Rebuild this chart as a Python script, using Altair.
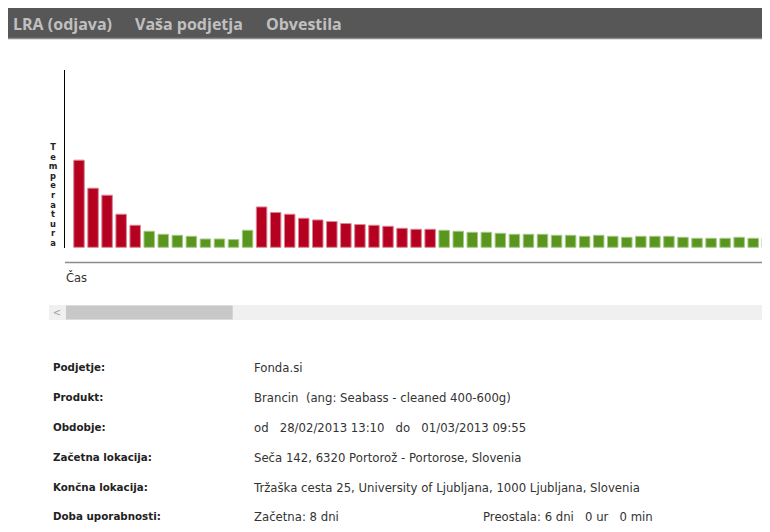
import altair as alt
import pandas as pd

# ---------------- data ----------------
menu_items = ["LRA (odjava)", "Vaša podjetja", "Obvestila"]

temperatures = [8.7, 5.9, 5.2, 3.3, 2.2, 1.6, 1.3, 1.2, 1.1, 0.83,
                0.83, 0.77, 1.7, 4.03, 3.47, 3.3, 2.9, 2.73, 2.57, 2.37,
                2.27, 2.2, 2.1, 1.9, 1.8, 1.8, 1.7, 1.6, 1.5, 1.5,
                1.4, 1.3, 1.3, 1.3, 1.2, 1.2, 1.1, 1.2, 1.1, 1.0,
                1.1, 1.1, 1.1, 1.0, 0.9, 0.9, 0.9, 1.0, 0.9, 0.9]

status = (["prekoračeno"] * 5 + ["ustrezno"] * 8 +
          ["prekoračeno"] * 13 + ["ustrezno"] * 24)

y_title = "Temperatura"
x_title = "Čas"

info_labels = ["Podjetje:", "Produkt:", "Obdobje:", "Začetna lokacija:",
               "Končna lokacija:", "Doba uporabnosti:"]
info_values = [
    "Fonda.si",
    "Brancin\u00a0 (ang: Seabass - cleaned 400-600g)",
    "od\u00a0\u00a0 28/02/2013 13:10\u00a0\u00a0 do\u00a0\u00a0 01/03/2013 09:55",
    "Seča 142, 6320 Portorož - Portorose, Slovenia",
    "Tržaška cesta 25, University of Ljubljana, 1000 Ljubljana, Slovenia",
    "Začetna: 8 dni",
]
remaining = "Preostala: 6 dni\u00a0\u00a0 0 ur\u00a0\u00a0 0 min"

# ---------------- layout ----------------
W, H = 754, 516
RED, GREEN = "#b5001f", "#5a961e"
RED_EDGE, GREEN_EDGE = "#dc8493", "#a6c98a"

df = pd.DataFrame({
    "idx": list(range(len(temperatures))),
    "temp": temperatures,
    "status": status,
})


def txt(s, x, y, **kw):
    return alt.Chart(pd.DataFrame({"t": [s]})).mark_text(**kw).encode(
        text="t:N", x=alt.value(x), y=alt.value(y))


def rect(x, x2, y, y2, color):
    return alt.Chart(pd.DataFrame({"a": [0]})).mark_rect(color=color).encode(
        x=alt.value(x), x2=alt.value(x2), y=alt.value(y), y2=alt.value(y2))


def rule(x, x2, y, y2, color, w):
    return alt.Chart(pd.DataFrame({"a": [0]})).mark_rule(
        color=color, strokeWidth=w).encode(
        x=alt.value(x), x2=alt.value(x2), y=alt.value(y), y2=alt.value(y2))


layers = []

# header bar
layers.append(rect(0, W, 0, 30, "#575757"))
layers.append(rule(0, W, 30.5, 30.5, "#8a8a8a", 1.5))
for s, x in zip(menu_items, [5, 127, 258]):
    layers.append(txt(s, x, 16.5, align="left", baseline="middle",
                      font="Open Sans", fontSize=16, fontWeight="bold",
                      color="#c0c0c0"))

# bars
bars = alt.Chart(df).mark_bar(size=10.5, strokeWidth=1).encode(
    x=alt.X("idx:Q", axis=None,
            scale=alt.Scale(domain=[0, 49], range=[66, 764.25], nice=False)),
    y=alt.Y("temp:Q", axis=None,
            scale=alt.Scale(domain=[0, 17.7], range=[239.3, 62], nice=False)),
    color=alt.Color("status:N", legend=None,
                    scale=alt.Scale(domain=["prekoračeno", "ustrezno"],
                                    range=[RED, GREEN])),
    stroke=alt.Stroke("status:N", legend=None,
                      scale=alt.Scale(domain=["prekoračeno", "ustrezno"],
                                      range=[RED_EDGE, GREEN_EDGE])),
)
layers.append(bars)

# axes
layers.append(rule(56.5, 56.5, 62, 240, "#000000", 1))
layers.append(rule(57, W, 254.5, 254.5, "#8c8c8c", 1.6))
layers.append(txt("\n".join(y_title), 45, 135, align="center", baseline="top",
                  lineBreak="\n", lineHeight=9.6, font="DejaVu Sans",
                  fontSize=8.3, fontWeight="bold", color="#222222"))
layers.append(txt(x_title, 58, 271, align="left", baseline="middle",
                  font="DejaVu Sans", fontSize=11.5, color="#333333"))

# scrollbar
layers.append(rect(41, W, 297, 312, "#f0f0f0"))
layers.append(rect(58, 224.7, 297.5, 311.5, "#c8c8c8"))
layers.append(txt("<", 49, 304.5, align="center", baseline="middle",
                  font="DejaVu Sans", fontSize=10, color="#a0a0a0"))

# info table
row_y = [360, 390, 420, 450, 479.5, 508.5]
for lab, val, y in zip(info_labels, info_values, row_y):
    layers.append(txt(lab, 45, y, align="left", baseline="middle",
                      font="DejaVu Sans", fontSize=10.3, fontWeight="bold",
                      color="#222222"))
    layers.append(txt(val, 246, y, align="left", baseline="middle",
                      font="DejaVu Sans", fontSize=11.7, color="#333333"))
layers.append(txt(remaining, 475, row_y[-1], align="left", baseline="middle",
                  font="DejaVu Sans", fontSize=11.7, color="#333333"))

chart = alt.layer(*layers).properties(
    width=W, height=H, padding=0, autosize="none", background="white"
).configure_view(stroke=None)

chart.save("out.html", embed_options={"renderer": "svg", "actions": False})
